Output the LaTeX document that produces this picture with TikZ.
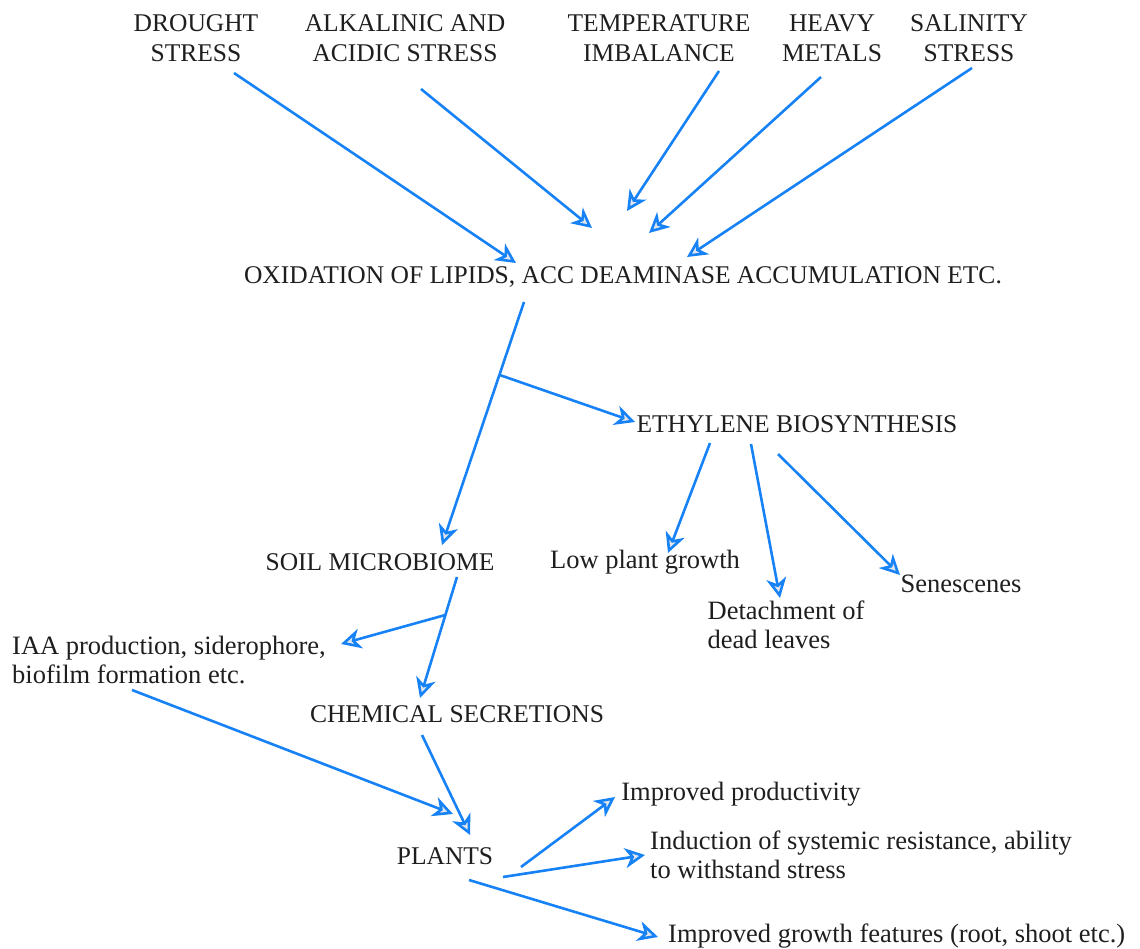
\documentclass[tikz,border=0pt]{standalone}
\usepackage{fontspec}
\setmainfont{Liberation Serif}
\usetikzlibrary{arrows.meta}
\definecolor{linkblue}{RGB}{22,130,245}
\definecolor{tipgray}{RGB}{226,230,234}
\definecolor{inkgray}{RGB}{30,30,30}
\begin{document}
\begin{tikzpicture}[x=1pt, y=-1pt,
  >={Stealth[length=20pt, width=20pt, inset=6pt, fill=tipgray]},
  caps/.style={font=\fontsize{25.5}{30}\selectfont, text=inkgray, align=center, inner sep=2pt},
  plain/.style={font=\fontsize{26.5}{29}\selectfont, text=inkgray, align=left, inner sep=2pt},
  link/.style={draw=linkblue, line width=2.6pt, line join=round, ->}]
\useasboundingbox (0,0) rectangle (1140,949);
% stresses
\node[caps] (drought) at (196,38) {DROUGHT\\STRESS};
\node[caps] (alkal) at (405,38) {ALKALINIC AND\\ACIDIC STRESS};
\node[caps] (temp) at (659,38) {TEMPERATURE\\IMBALANCE};
\node[caps] (heavy) at (832,38) {HEAVY\\METALS};
\node[caps] (salin) at (969,38) {SALINITY\\STRESS};
\node[caps] (oxid) at (623,277) {OXIDATION OF LIPIDS, ACC DEAMINASE ACCUMULATION ETC.};
% ethylene side
\node[caps] (ethyl) at (797,424) {ETHYLENE BIOSYNTHESIS};
\node[plain] (lowgr) at (645,562) {Low plant growth};
\node[plain] (detach) at (786,625) {Detachment of\\dead leaves};
\node[plain] (senes) at (961,584) {Senescenes};
% microbiome side
\node[caps] (soil) at (380,562) {SOIL MICROBIOME};
\node[plain, anchor=west] (iaa) at (10,660) {IAA production, siderophore,\\biofilm formation etc.};
\node[caps] (chem) at (457,714) {CHEMICAL SECRETIONS};
\node[caps] (plants) at (445,856) {PLANTS};
\node[plain] (prod) at (741,794) {Improved productivity};
\node[plain, anchor=west] (induct) at (648,855) {Induction of systemic resistance, ability\\to withstand stress};
\node[plain, anchor=west] (growth) at (666,936) {Improved growth features (root, shoot etc.)};

\draw[link] ([shift={(38,35)}]drought.center) -- ([shift={(-107,-14)}]oxid.center);
\draw[link] ([shift={(16,51)}]alkal.center) -- ([shift={(-31,-49)}]oxid.center);
\draw[link] ([shift={(60,33)}]temp.center) -- ([shift={(4,-66)}]oxid.center);
\draw[link] ([shift={(-11,39)}]heavy.center) -- ([shift={(26,-44)}]oxid.center);
\draw[link] ([shift={(3,30)}]salin.center) -- ([shift={(64,-20)}]oxid.center);

\draw[link] ([shift={(-99,25)}]oxid.center) -- coordinate[pos=0.30] (fork1) ([shift={(62,-17)}]soil.center);
\draw[link] (fork1) -- ([shift={(-162,-2)}]ethyl.center);
\draw[link] ([shift={(-87,19)}]ethyl.center) -- ([shift={(23,-9)}]lowgr.center);
\draw[link] ([shift={(-46,20)}]ethyl.center) -- ([shift={(-6,-27)}]detach.center);
\draw[link] ([shift={(-19,30)}]ethyl.center) -- ([shift={(-61,-9)}]senes.center);

\draw[link] ([shift={(77,15)}]soil.center) -- coordinate[pos=0.314] (fork2) ([shift={(-37,-16)}]chem.center);
\draw[link] (fork2) -- ([shift={(331,-16)}]iaa.west);
\draw[link] ([shift={(122,30)}]iaa.west) -- ([shift={(8,-42)}]plants.center);
\draw[link] ([shift={(-35,21)}]chem.center) -- ([shift={(25,-21)}]plants.center);

\draw[link] ([shift={(76,11)}]plants.center) -- ([shift={(-126,3)}]prod.center);
\draw[link] ([shift={(58,21)}]plants.center) -- ([shift={(-3,0)}]induct.west);
\draw[link] ([shift={(24,24)}]plants.center) -- ([shift={(-8,1)}]growth.west);
\end{tikzpicture}
\end{document}
